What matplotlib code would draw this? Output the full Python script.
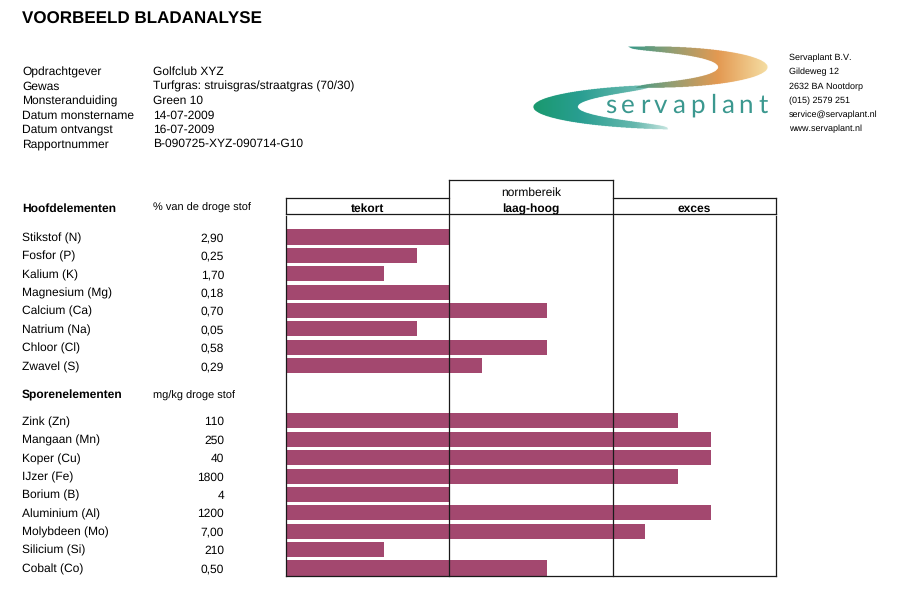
import numpy as np
import matplotlib
matplotlib.use("Agg")
import matplotlib.pyplot as plt
from matplotlib.path import Path
from matplotlib.transforms import blended_transform_factory

plt.rcParams['font.family'] = ['Liberation Sans', 'DejaVu Sans']
plt.rcParams['text.hinting'] = 'no_hinting'
plt.rcParams['text.hinting_factor'] = 1

# Data
title = "VOORBEELD BLADANALYSE"
info_labels = ['Opdrachtgever', 'Gewas', 'Monsteranduiding', 'Datum monstername',
               'Datum ontvangst', 'Rapportnummer']
info_values = ['Golfclub XYZ', 'Turfgras: struisgras/straatgras (70/30)', 'Green 10',
               '14-07-2009', '16-07-2009', 'B-090725-XYZ-090714-G10']
address = ['Servaplant B.V.', 'Gildeweg 12', '2632 BA Nootdorp', '(015) 2579 251',
           'service@servaplant.nl', 'www.servaplant.nl']

columns = ['tekort', 'laag-hoog', 'exces']

main_names = ['Stikstof (N)', 'Fosfor (P)', 'Kalium (K)', 'Magnesium (Mg)', 'Calcium (Ca)',
              'Natrium (Na)', 'Chloor (Cl)', 'Zwavel (S)']
main_values = ['2,90', '0,25', '1,70', '0,18', '0,70', '0,05', '0,58', '0,29']
main_scores = [1.0, 0.8, 0.6, 1.0, 1.6, 0.8, 1.6, 1.2]

trace_names = ['Zink (Zn)', 'Mangaan (Mn)', 'Koper (Cu)', 'IJzer (Fe)', 'Borium (B)',
               'Aluminium (Al)', 'Molybdeen (Mo)', 'Silicium (Si)', 'Cobalt (Co)']
trace_values = ['110', '250', '40', '1800', '4', '1200', '7,00', '210', '0,50']
trace_scores = [2.4, 2.6, 2.6, 2.4, 1.0, 2.6, 2.2, 0.6, 1.6]

main_rows = np.arange(len(main_names))
trace_rows = np.arange(len(trace_names)) + 10

W, H = 899, 599
fig = plt.figure(figsize=(W / 100, H / 100), dpi=100)

# background axes in pixel coordinates (text, logo, frame)
bg = fig.add_axes([0, 0, 1, 1])
bg.axis('off')

# bar axes: x 0..3 (tekort / normbereik / exces), y = rows
X0, X1, Y0, Y1 = 286, 776, 216, 576
ROW0, STEP = 237, 18.39
ax = fig.add_axes([X0 / W, (H - Y1) / H, (X1 - X0) / W, (Y1 - Y0) / H])
ax.set_xlim(0, 3)
ax.set_ylim((Y1 - ROW0) / STEP, (Y0 - ROW0) / STEP)
ax.axis('off')
ax.patch.set_alpha(0)

bar_color = '#a3486f'
ax.barh(main_rows, main_scores, height=0.82, color=bar_color)
ax.barh(trace_rows, trace_scores, height=0.82, color=bar_color)

# logo: two swooshes drawn as a small image
lx0, lx1, ly0, ly1 = 520, 775, 40, 136
gx, gy = np.meshgrid(np.linspace(lx0, lx1, 3 * (lx1 - lx0)),
                     np.linspace(ly0, ly1, 3 * (ly1 - ly0)))
pts = np.column_stack([gx.ravel(), gy.ravel()])


def crescent(cx, cy, a, b, p1, p2, kx, ky):
    phi = np.radians(np.linspace(p1, p2, 200))
    s = np.sin(np.linspace(0, np.pi, 200)) ** 0.35
    ox, oy = cx + a * np.cos(phi), cy - b * np.sin(phi)
    ix = cx + (1 - kx * s) * a * np.cos(phi)
    iy = cy - (1 - ky * s) * b * np.sin(phi)
    verts = np.concatenate([np.column_stack([ox, oy]), np.column_stack([ix, iy])[::-1]])
    return Path(verts).contains_points(pts).reshape(gx.shape)


def ramp(stops, cols):
    return np.stack([np.interp(gx, stops, [c[k] for c in cols]) for k in range(3)], -1)


img = np.ones(gx.shape + (4,))
img[..., 3] = 0

low = crescent(690, 107, 157, 23, 105, 262, 0.287, 0.42)
low_col = ramp([533, 580, 635, 668], [(0.10, 0.60, 0.43), (0.16, 0.62, 0.57),
                                       (0.40, 0.72, 0.68), (0.78, 0.90, 0.88)])
img[low, :3] = low_col[low]
img[low, 3] = 1

up = crescent(650, 67, 118, 21, 101, -97, 0.424, 0.45)
up_col = ramp([628, 672, 718, 768], [(0.20, 0.60, 0.54), (0.58, 0.62, 0.45),
                                      (0.89, 0.60, 0.32), (0.96, 0.87, 0.64)])
img[up, :3] = up_col[up]
img[up, 3] = 1

bg.imshow(img, extent=(lx0, lx1, ly1, ly0), origin='upper', interpolation='antialiased',
          zorder=1)
bg.set_xlim(0, W)
bg.set_ylim(H, 0)
bg.set_aspect('auto')

# "servaplant" with wide letter spacing
renderer = fig.canvas.get_renderer()
x = 605
for ch in 'servaplant':
    t = bg.text(x, 113, ch, ha='left', va='baseline', fontsize=19,
                family=['Lato', 'DejaVu Sans'], color='#3b988f', zorder=2)
    x += t.get_window_extent(renderer).width + 4.9

# frame lines on top of bars
cw = (X1 - X0) / 3
xa, xb = X0 + cw, X0 + 2 * cw
lk = dict(color='#1a1a1a', lw=0.9, transform=bg.transData, clip_on=False, zorder=5)
ax.plot([X0, xa], [198, 198], **lk)
ax.plot([xb, X1], [198, 198], **lk)
ax.plot([X0, X1], [214, 214], **lk)
ax.plot([X0, X0], [198, 214], **lk)
ax.plot([X1, X1], [198, 214], **lk)
ax.plot([xa, xb], [180, 180], **lk)
ax.plot([xa, xa], [180, 576], **lk)
ax.plot([xb, xb], [180, 576], **lk)
ax.plot([X0, X0], [216, 576], **lk)
ax.plot([X1, X1], [216, 576], **lk)
ax.plot([X0, X1], [576, 576], **lk)

for i, c in enumerate(columns):
    bg.text(X0 + cw * (i + 0.5), 208, c, ha='center', va='center_baseline', fontsize=8.8,
            fontweight='bold')
bg.text(X0 + cw * 1.5, 192, 'normbereik', ha='center', va='center_baseline', fontsize=8.8)

# title and header info
bg.text(22, 18, title, ha='left', va='center_baseline', fontsize=12.3, fontweight='bold')
for i, (lab, val) in enumerate(zip(info_labels, info_values)):
    y = 71 + i * 14.4
    bg.text(22, y, lab, ha='left', va='center_baseline', fontsize=8.7)
    bg.text(153, y, val, ha='left', va='center_baseline', fontsize=8.7)
for i, line in enumerate(address):
    bg.text(789, 57 + i * 14.2, line, ha='left', va='center_baseline', fontsize=6.7)

# element labels, aligned with the bar rows
tr = blended_transform_factory(bg.transData, ax.transData)
bg.text(22, -1.63, 'Hoofdelementen', transform=tr, ha='left', va='center_baseline',
        fontsize=8.7, fontweight='bold')
bg.text(153, -1.63, '% van de droge stof', transform=tr, ha='left', va='center_baseline',
        fontsize=7.8)
bg.text(22, 8.55, 'Sporenelementen', transform=tr, ha='left', va='center_baseline',
        fontsize=8.7, fontweight='bold')
bg.text(153, 8.55, 'mg/kg droge stof', transform=tr, ha='left', va='center_baseline',
        fontsize=7.8)
for names, vals, rows in [(main_names, main_values, main_rows),
                          (trace_names, trace_values, trace_rows)]:
    for n, v, r in zip(names, vals, rows):
        bg.text(22, r, n, transform=tr, ha='left', va='center_baseline', fontsize=8.6)
        bg.text(224, r, v, transform=tr, ha='right', va='center_baseline', fontsize=8.6)

fig.savefig('out.png', dpi=100)
